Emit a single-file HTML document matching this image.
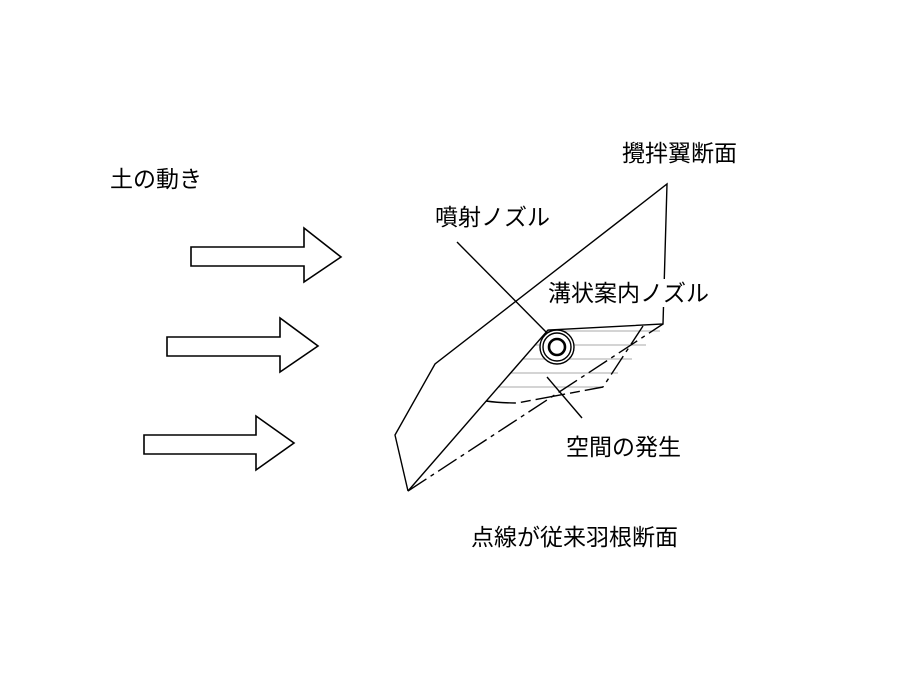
<!DOCTYPE html>
<html><head><meta charset="utf-8"><style>
html,body{margin:0;padding:0;background:#fff;}
svg{display:block;}
text{font-family:"Liberation Sans","Noto Sans CJK JP",sans-serif;font-size:23px;fill:#000;}
</style></head><body>
<svg width="900" height="675" viewBox="0 0 900 675" xmlns="http://www.w3.org/2000/svg">
<g fill="#fff" stroke="#000" stroke-width="1.6" stroke-linejoin="miter">
<polygon points="191,247 304,247 304,228 341,257 304,282 304,266 191,266"/>
<polygon points="167,337 280,337 280,318 318,346 280,372 280,356 167,356"/>
<polygon points="144,435 256,435 256,416 294,443 256,470 256,454 144,454"/>
</g>
<!-- hatch -->
<g stroke="#aaa" stroke-width="1">
<line x1="546" y1="331" x2="660" y2="331"/>
<line x1="535" y1="345" x2="646" y2="345"/>
<line x1="523" y1="359" x2="632" y2="359"/>
<line x1="511" y1="373" x2="618" y2="373"/>
<line x1="499" y1="387" x2="604" y2="387"/>
</g>
<g fill="none" stroke="#000" stroke-width="1.4">
<polyline points="408,491 395,435 435,364 667,184 663,324 548,330 408,491"/>
<line x1="408" y1="491" x2="663" y2="324" stroke-dasharray="22,5,4,5"/>
<line x1="643" y1="326" x2="603" y2="387" stroke-dasharray="22,5,4,5"/>
<path d="M486,401 Q500,403 517,403 L603,387" stroke-dasharray="30,5,10,5"/>
<line x1="457" y1="242" x2="552" y2="338"/>
<line x1="547" y1="377" x2="582" y2="418"/>
<circle cx="557" cy="347" r="17" fill="#fff"/>
<circle cx="557" cy="347" r="14"/>
<circle cx="557" cy="347" r="8" stroke-width="2.6"/>
</g>
<g>
<text x="110" y="187">土の動き</text>
<rect x="620" y="140" width="122" height="26" fill="#fff"/>
<text x="622" y="161">攪拌翼断面</text>
<text x="435" y="225">噴射ノズル</text>
<rect x="546" y="279" width="166" height="28" fill="#fff"/>
<text x="548" y="301">溝状案内ノズル</text>
<text x="566" y="455">空間の発生</text>
<text x="471" y="545">点線が従来羽根断面</text>
</g>
</svg>
</body></html>
